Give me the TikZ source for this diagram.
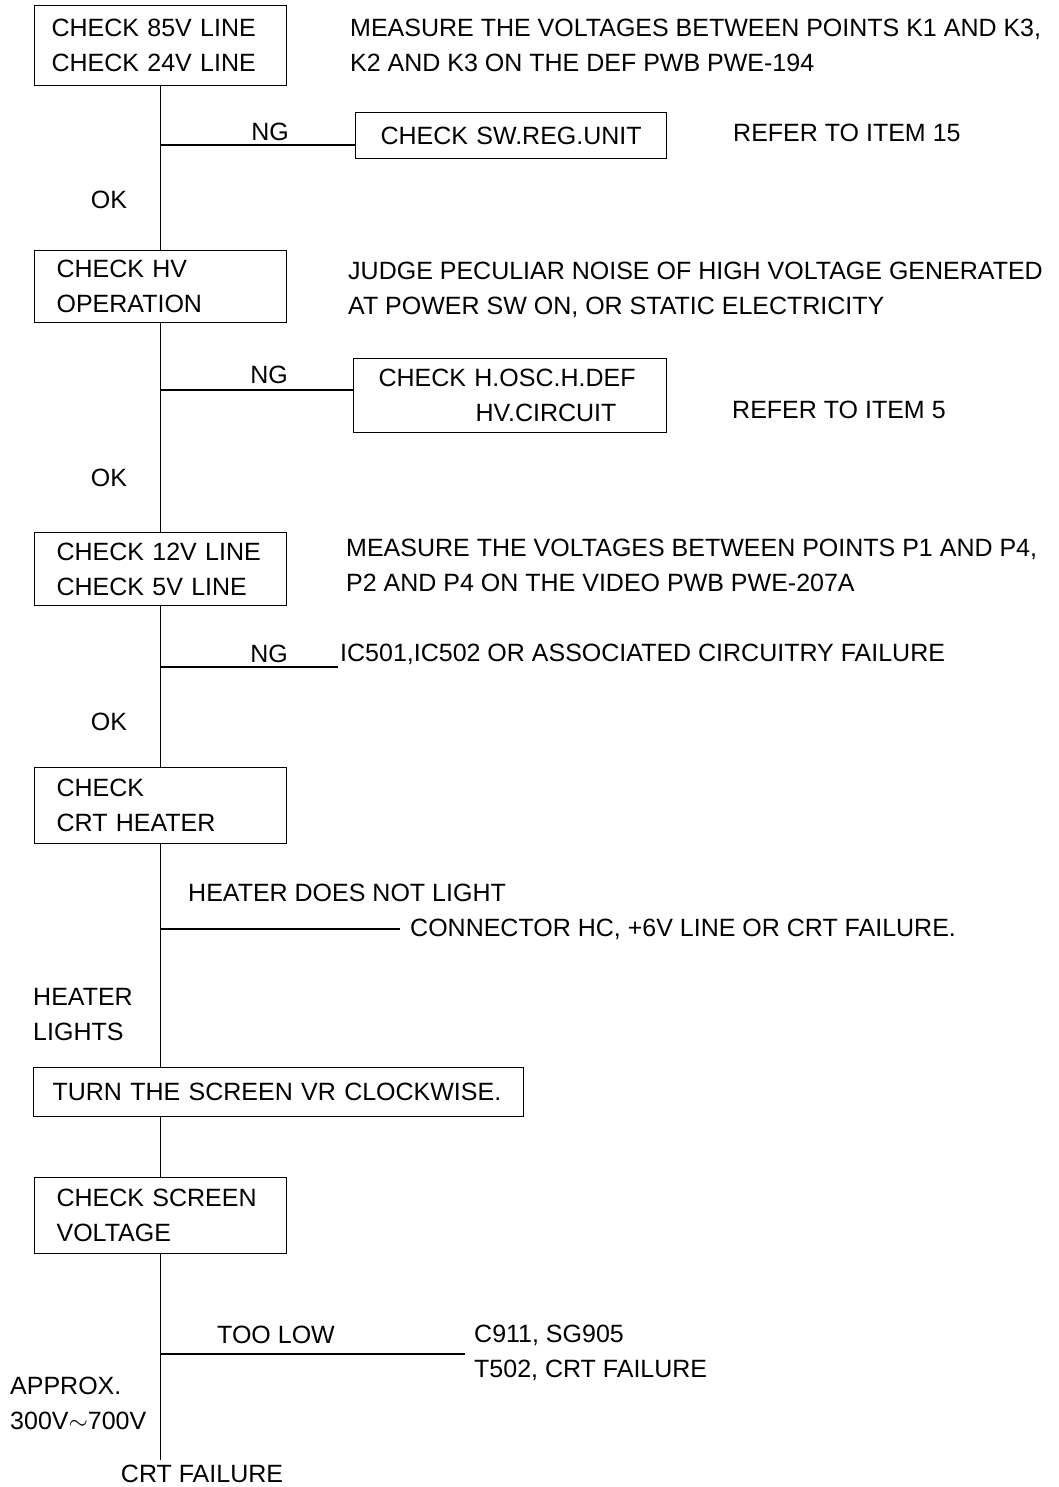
\documentclass[tikz,border=0pt]{standalone}
\usepackage{fontspec}
\setmainfont{Liberation Sans}
\usepackage{tikz}
\usetikzlibrary{positioning, calc}

\begin{document}
\begin{tikzpicture}[
    x=1pt, y=-1pt,
    every node/.style={font=\fontsize{25}{35}\selectfont, inner sep=0pt},
    chk box/.style={draw, line width=1.2pt, align=left, anchor=north west,
                    inner xsep=22pt, inner ysep=0pt, text width=208pt},
    note/.style={anchor=west, align=left},
    wire/.style={line width=1.2pt},
  ]
  \useasboundingbox (0,0) rectangle (1058,1487);

  % ============ MAIN CHECK BOXES ============
  \node[chk box, inner xsep=17pt, text width=218pt, minimum height=80pt]
    (pwr) at (34,5) {CHECK 85V LINE\\CHECK 24V LINE};
  \node[chk box, minimum height=72pt]
    (hv) at (34,250) {CHECK HV\\OPERATION};
  \node[chk box, minimum height=73pt]
    (lv) at (34,532) {CHECK 12V LINE\\CHECK 5V LINE};
  \node[chk box, minimum height=76pt]
    (htr) at (34,767) {CHECK\\CRT HEATER};
  \node[chk box, inner xsep=19pt, text width=452pt, minimum height=49pt]
    (vr) at (33,1067) {TURN THE SCREEN VR CLOCKWISE.};
  \node[chk box, minimum height=76pt]
    (scr) at (34,1177) {CHECK SCREEN\\VOLTAGE};

  % side boxes (NG branches)
  \node[chk box, align=center, inner xsep=10pt, text width=291pt, minimum height=46pt]
    (swreg) at (355,112) {CHECK SW.REG.UNIT};
  \node[chk box, inner xsep=25pt, text width=263pt, minimum height=74pt]
    (hosc) at (353,358) {CHECK H.OSC.H.DEF\\\hspace*{97pt}HV.CIRCUIT};

  % ============ TRUNK ============
  \coordinate (tail) at (scr.south |- 0,1460);
  \draw[wire] (pwr.south) -- (hv.north);
  \draw[wire] (hv.south) -- (lv.north);
  \draw[wire] (lv.south) -- (htr.north);
  \draw[wire] (htr.south) -- (htr.south |- vr.north);
  \draw[wire] (vr.south -| scr.north) -- (scr.north);
  \draw[wire] (scr.south) -- (tail);

  % ============ DESCRIPTIONS ============
  \node[note] (kdesc) at (350,45.5)
    {MEASURE THE VOLTAGES BETWEEN POINTS K1 AND K3,\\K2 AND K3 ON THE DEF PWB PWE-194};
  \node[note] (hvdesc) at (348,289.5)
    {JUDGE PECULIAR NOISE OF HIGH VOLTAGE GENERATED\\AT POWER SW ON, OR STATIC ELECTRICITY};
  \node[note] (pdesc) at (346,565)
    {MEASURE THE VOLTAGES BETWEEN POINTS P1 AND P4,\\P2 AND P4 ON THE VIDEO PWB PWE-207A};
  \node[note] (refer15) at (733,133) {REFER TO ITEM 15};
  \node[note] (refer5) at (732,410) {REFER TO ITEM 5};

  % ============ BRANCHES ============
  % NG -> SW.REG
  \coordinate (ng1) at (pwr.south |- 0,145);
  \draw[wire] (ng1) -- (ng1 -| swreg.west);
  \node (ng1lbl) at (270,132) {NG};
  \node (ok1) at (109,200) {OK};

  % NG -> H.OSC
  \coordinate (ng2) at (hv.south |- 0,390);
  \draw[wire] (ng2) -- (ng2 -| hosc.west);
  \node (ng2lbl) at (269,375) {NG};
  \node (ok2) at (109,478) {OK};

  % NG -> IC failure
  \coordinate (ng3) at (lv.south |- 0,667);
  \coordinate (ng3end) at (338,667);
  \draw[wire] (ng3) -- (ng3end);
  \node (ng3lbl) at (269,654) {NG};
  \node[note] (icfail) at (340,654) {IC501,IC502 OR ASSOCIATED CIRCUITRY FAILURE};
  \node (ok3) at (109,722) {OK};

  % heater
  \node[note] (nolight) at (188,893) {HEATER DOES NOT LIGHT};
  \node[note] (hcfail) at (410,929) {CONNECTOR HC, +6V LINE OR CRT FAILURE.};
  \coordinate (hc1) at (htr.south |- 0,929);
  \draw[wire] (hc1) -- ([xshift=-10pt]hcfail.west);
  \node[note] (lights) at (33,1014.5) {HEATER\\LIGHTS};

  % screen voltage
  \node[note] (toolow) at (217,1335) {TOO LOW};
  \node[note] (cfail) at (474,1352.5) {C911, SG905\\T502, CRT FAILURE};
  \coordinate (low1) at (scr.south |- 0,1354);
  \draw[wire] (low1) -- ([xshift=-9pt]cfail.west |- low1);
  \node[note] (approx) at (10,1403) {APPROX.\\300V$\sim$700V};
  \node (crtfail) at (202,1474) {CRT FAILURE};

\end{tikzpicture}
\end{document}
